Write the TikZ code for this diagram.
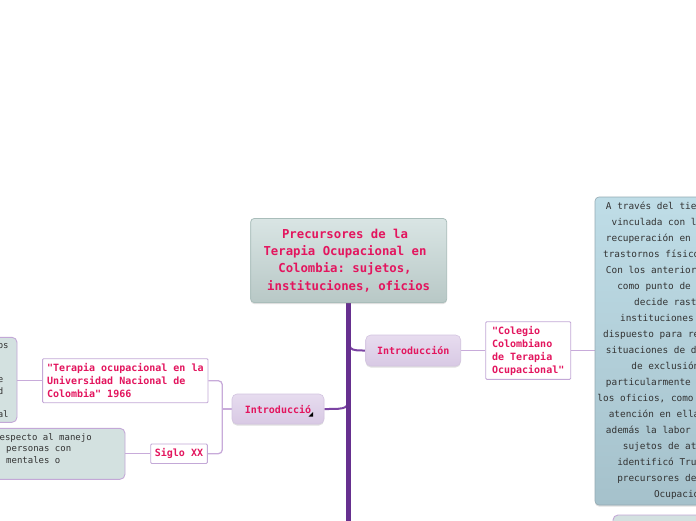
\documentclass[tikz,border=0pt]{standalone}
\usepackage{fontspec}
\setmonofont[WordSpace={1,0,0}]{DejaVu Sans Mono}
\usetikzlibrary{shadows}
\pgfdeclarelayer{back}
\pgfdeclarelayer{bg}
\pgfsetlayers{back,bg,main}
\definecolor{crim}{HTML}{E3155E}
\definecolor{bodytxt}{HTML}{333333}
\definecolor{titletop}{HTML}{D9E5E4}
\definecolor{titlebot}{HTML}{B8C8C6}
\definecolor{titleline}{HTML}{A9BDBA}
\definecolor{lavtop}{HTML}{E7DCEF}
\definecolor{lavbot}{HTML}{D8C9E4}
\definecolor{lavline}{HTML}{D3C4E0}
\definecolor{bluetop}{HTML}{BFDDE7}
\definecolor{bluebot}{HTML}{A5C1CB}
\definecolor{blueline}{HTML}{94AAB3}
\definecolor{greyfill}{HTML}{D3E1E0}
\definecolor{boxline}{HTML}{C3A8D7}
\definecolor{conn}{HTML}{C8ABDA}
\definecolor{trunkc}{HTML}{66308F}
\definecolor{curvec}{HTML}{7B44A3}
\begin{document}
\begin{tikzpicture}[x=1pt,y=-1pt,
  shad/.style={drop shadow={shadow xshift=0pt, shadow yshift=-1.5pt, opacity=0.25}},
  basebox/.style={rectangle, rounded corners=3.5pt, inner sep=0pt},
  titlebox/.style={basebox, draw=titleline, line width=0.8pt, top color=titletop, bottom color=titlebot, minimum width=196pt, minimum height=84pt, align=center, text=crim, font={\ttfamily\bfseries\fontsize{12.3}{17.3}\selectfont}, shad},
  lavnode/.style={basebox, rounded corners=5pt, draw=lavline, line width=0.6pt, top color=lavtop, bottom color=lavbot, text=crim, font={\ttfamily\bfseries\fontsize{10}{13}\selectfont}, shad},
  topicbox/.style={basebox, rounded corners=1pt, draw=boxline, line width=0.9pt, fill=white, text=crim, font={\ttfamily\bfseries\fontsize{10}{13}\selectfont}},
  bluebox/.style={basebox, rounded corners=4pt, draw=blueline, line width=0.6pt, top color=bluetop, bottom color=bluebot, text=bodytxt, align=center, font={\ttfamily\fontsize{9.4}{16}\selectfont}, shad},
  greybox/.style={basebox, rounded corners=5pt, draw=boxline, line width=0.9pt, fill=greyfill},
  smalltext/.style={inner sep=0pt, align=left, text=bodytxt, font={\ttfamily\fontsize{9}{11.5}\selectfont}, anchor=base west},
  conline/.style={draw=conn, line width=1.3pt},
  trunk/.style={draw=trunkc, line width=5pt},
  branch/.style={draw=curvec, line width=2pt}]
\useasboundingbox (0,0) rectangle (696,520);
\begin{pgfonlayer}{back}
\fill[white] (0,0) rectangle (696,520);
\end{pgfonlayer}
\clip (0,0) rectangle (696,520);

% nodes
\node[titlebox] (title) at (348.7,260.5) {Precursores de la\ \hbox{}\\Terapia Ocupacional en\ \hbox{}\\Colombia: sujetos,\ \hbox{}\\instituciones, oficios};
\node[lavnode, minimum width=95pt, minimum height=31pt] (introR) at (413.2,350.5) {Introducción};
\node[topicbox, align=left, minimum width=85pt, minimum height=57.6pt] (colegio) at (528.2,350.5) {"Colegio\ \hbox{}\\Colombiano\\de Terapia\\Ocupacional"};
\node[bluebox, minimum width=186pt, minimum height=308pt] (bigbox) at (688,351) {A través del tiempo ha estado\\vinculada con la atención y\\recuperación en pacientes con\\trastornos físicos y mentales.\\Con los anteriores referentes\\como punto de partida, se\\decide rastrear las\\instituciones que se han\\dispuesto para responder a las\\situaciones de discapacidad y\\de exclusión social,\\particularmente el trabajo, y\\los oficios, como estrategias de\\atención en ellas; se revisa\\además la labor terapéutica y\\sujetos de atención. Se\\identificó Trujillo entre\\precursores de la Terapia\\Ocupacional.};
\node[greybox, minimum width=186pt, minimum height=45pt, shad] (nextbox) at (706,537.5) {};

\node[lavnode, minimum width=92pt, minimum height=30pt] (introL) at (278,409) {Introducció};
\fill[black] (313.2,412) -- (313.2,416.6) -- (308.6,416.6) -- cycle;
\node[topicbox, align=left, minimum width=165.3pt, minimum height=44pt] (terapia) at (125.3,380.7) {"Terapia ocupacional en la\\Universidad Nacional de\\Colombia" 1966};
\node[topicbox, minimum width=56.6pt, minimum height=19.5pt] (siglo) at (179,453.7) {Siglo XX};
\node[greybox, minimum width=140pt, minimum height=85pt] (ulbox) at (-53,379.8) {};
\node[smalltext] (ultext) at (-99.9,417) {Se formalizan cursos\\universitarios de\\rehabilitación en\\Colombia, desde que\\ante la Universidad\\Nacional se crea\\el programa nacional};
\node[greybox, minimum width=200pt, minimum height=51pt] (llbox) at (25,453.8) {};
\node[smalltext] (lltext) at (-6,463) {respecto al manejo\\\hbox to 12pt{}personas con\\\hbox to 12pt{}mentales o};

\coordinate (trunkend) at (348.7,530);
\coordinate (tr1) at (348.7,331);
\coordinate (tl1) at (348.7,393);
\coordinate (bx) at (222.3,409);

\begin{pgfonlayer}{bg}
\draw[branch] (tr1) .. controls (348.7,350.5) .. (introR.west);
\draw[branch] (tl1) .. controls (348.7,409) .. (introL.east);
\draw[trunk] (title.south) -- (trunkend);
\draw[conline] (introR.east) -- (colegio.west);
\draw[conline] (colegio.east) -- (colegio.east -| bigbox.west);
\draw[conline, rounded corners=4pt] (terapia.east) -| (bx) |- (siglo.east);
\draw[conline] (introL.west) -- (bx);
\draw[conline] (terapia.west) -- (terapia.west -| ulbox.east);
\draw[conline] (siglo.west) -- (siglo.west -| llbox.east);
\end{pgfonlayer}
\end{tikzpicture}
\end{document}
